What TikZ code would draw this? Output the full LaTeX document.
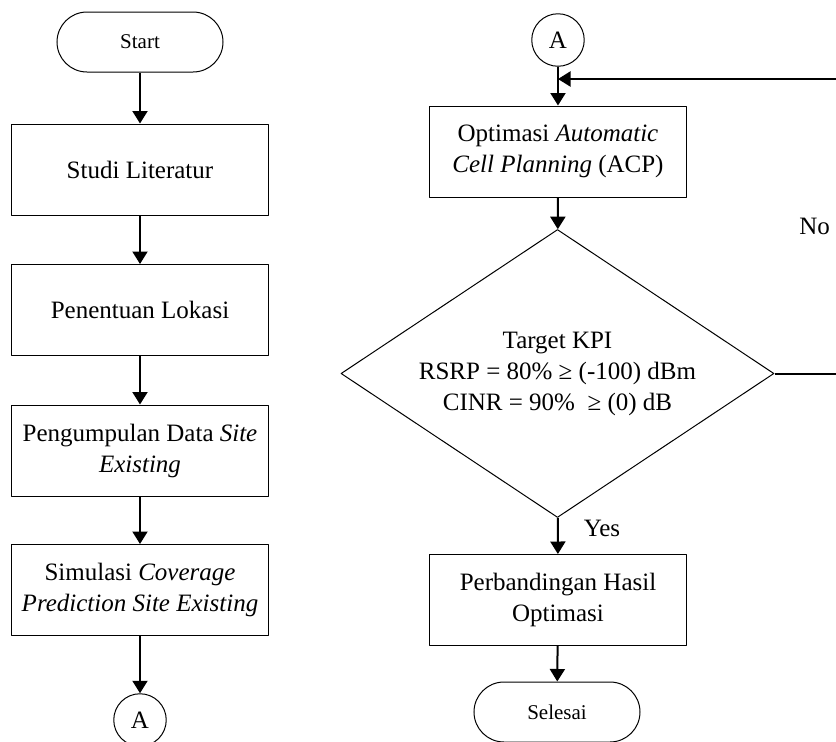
\documentclass[tikz,border=0pt]{standalone}
\usepackage{fontspec}
\setmainfont{Liberation Serif}
\usetikzlibrary{shapes.geometric,arrows.meta}

\tikzset{
	proses/.style={draw, line width=0.4pt, minimum width=102.4pt, minimum height=36.4pt, inner sep=0pt, align=center},
	terminal/.style={draw, line width=0.4pt, rounded corners=12pt, minimum width=66.4pt, minimum height=24pt, inner sep=0pt, font=\fontsize{8.4}{10}\selectfont},
	keputusan/.style={draw, diamond, shape aspect=1.5, line width=0.4pt, minimum width=173.2pt, minimum height=115.2pt, inner sep=0pt, align=center},
	konektor/.style={draw, circle, line width=0.4pt, minimum size=21pt, inner sep=0pt},
	panah/.style={line width=0.8pt, -{Triangle[length=5pt,width=6pt]}},
}

\begin{document}
\begin{tikzpicture}[x=0.4pt, y=-0.4pt, font=\fontsize{10}{12.4}\selectfont, line join=round]
			\useasboundingbox (0,0) rectangle (836,742);
			\clip (0,0) rectangle (836,742);
			% kolom kiri
			\node[terminal] (start) at (140,42) {Start};
			\node[proses] (studi) at (140,169.5) {Studi Literatur};
			\node[proses] (lokasi) at (140,310) {Penentuan Lokasi};
			\node[proses] (data) at (140,450.5) {Pengumpulan Data \textit{Site}\\\textit{Existing}};
			\node[proses] (simulasi) at (140,590) {Simulasi \textit{Coverage}\\\textit{Prediction Site Existing}};
			\node[konektor] (A1) at (140,720) {A};
			% kolom kanan
			\node[konektor] (A2) at (558,40) {A};
			\node[proses] (acp) at (558,151.5) {Optimasi \textit{Automatic}\\\textit{Cell Planning} (ACP)};
			\node[keputusan] (kpi) at (557.5,373.5) {Target KPI\\RSRP = 80\% ≥ (-100) dBm\\CINR = 90\%\ \ ≥ (0) dB};
			\node[proses] (hasil) at (558,600) {Perbandingan Hasil\\Optimasi};
			\node[terminal] (selesai) at (557,712) {Selesai};
			\coordinate (balik) at (558,79);
			
			\draw[panah] (start) -- (studi);
			\draw[panah] (studi) -- (lokasi);
			\draw[panah] (lokasi) -- (data);
			\draw[panah] (data) -- (simulasi);
			\draw[panah] (simulasi) -- (A1);
			\draw[panah] (A2) -- (acp);
			\draw[panah] (acp) -- (kpi);
			\draw[panah] (kpi) -- node[pos=0.3, right=10pt, inner sep=0pt] {Yes} (hasil);
			\draw[panah] (hasil) -- (selesai);
			\draw[panah] (kpi.east) -- ++(74,0) |- node[pos=0.25, left=7pt, inner sep=0pt] {No} (balik);
		\end{tikzpicture}
\end{document}
